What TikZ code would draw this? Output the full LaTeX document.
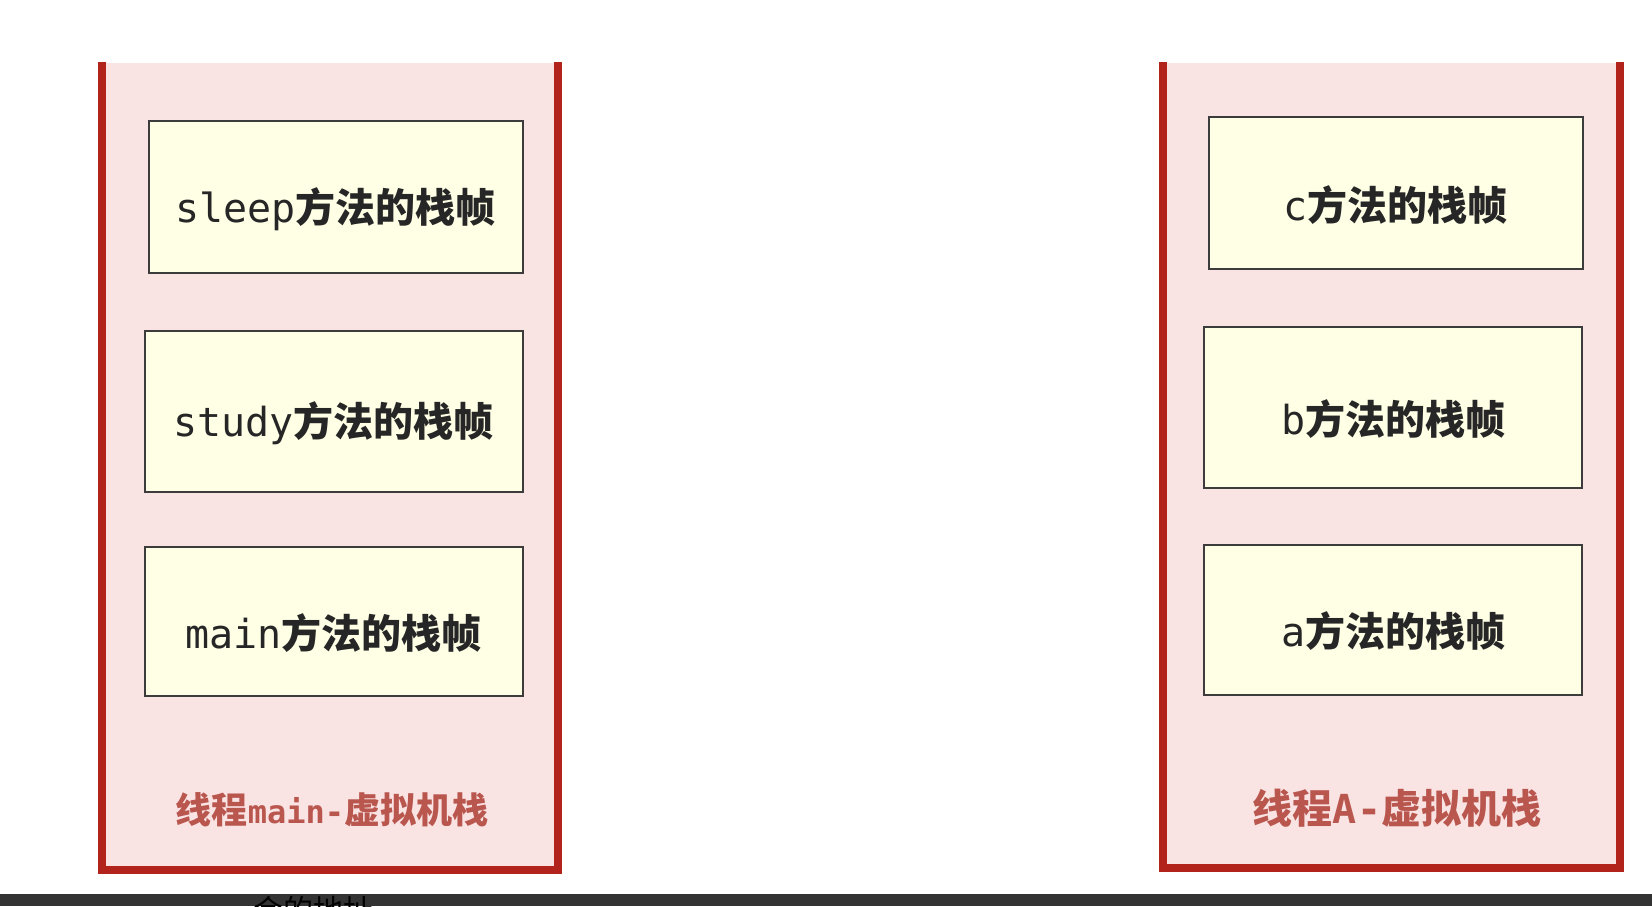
\documentclass[tikz,border=0pt]{standalone}
\usepackage{fontspec}
\setmainfont{DejaVu Sans Mono}
\newfontfamily\cjk{Noto Sans CJK SC}
\definecolor{stackred}{HTML}{B2231B}
\definecolor{stackfill}{HTML}{FAE3E3}
\definecolor{framefill}{HTML}{FFFFE6}
\definecolor{frameline}{HTML}{3C3C3C}
\definecolor{labelred}{HTML}{B9574F}
\definecolor{barfill}{HTML}{333333}
\tikzset{
  stackwall/.style={draw=stackred, line width=8pt},
  framebox/.style={draw=frameline, fill=framefill, line width=2pt, inner sep=0pt},
  frametext/.style={font=\fontsize{40}{40}\selectfont, text=black!85},
  stacklabel/.style={font=\bfseries, text=labelred},
}
\newcommand{\fr}[1]{{\cjk\bfseries #1}}
\begin{document}
\begin{tikzpicture}[x=1pt,y=-1pt]
\useasboundingbox (0,0) rectangle (1652,906);
\fill[white] (0,0) rectangle (1652,906);
% left stack
\fill[stackfill] (102,63) rectangle (558,870);
\draw[stackwall] (102,62) -- (102,870) -- (558,870) -- (558,62);
% right stack
\fill[stackfill] (1163,63) rectangle (1620,868);
\draw[stackwall] (1163,62) -- (1163,868) -- (1620,868) -- (1620,62);
% frames left
\node[framebox, minimum width=374pt, minimum height=152pt] (sleep) at (335.6,197) {};
\node[frametext] (sleept) at ([yshift=-12pt]sleep.center) {sleep\fr{方法的栈帧}};
\node[framebox, minimum width=378pt, minimum height=161pt] (study) at (333.5,411.5) {};
\node[frametext] (studyt) at ([yshift=-12pt]study.center) {study\fr{方法的栈帧}};
\node[framebox, minimum width=378pt, minimum height=149pt] (mainf) at (333.5,621.5) {};
\node[frametext] (maint) at ([yshift=-12pt]mainf.center) {main\fr{方法的栈帧}};
% frames right
\node[framebox, minimum width=374pt, minimum height=152pt] (cf) at (1395.5,193) {};
\node[frametext] (ct) at ([yshift=-12pt]cf.center) {c\fr{方法的栈帧}};
\node[framebox, minimum width=378pt, minimum height=161pt] (bf) at (1393.4,407) {};
\node[frametext] (bt) at ([yshift=-12pt]bf.center) {b\fr{方法的栈帧}};
\node[framebox, minimum width=378pt, minimum height=150pt] (af) at (1393.4,619.5) {};
\node[frametext] (at) at ([yshift=-12pt]af.center) {a\fr{方法的栈帧}};
% stack labels
\node[stacklabel] (lmain) at (332,810) {\fontsize{36}{36}\selectfont\fr{线程}{\fontsize{32}{32}\selectfont main-}\fr{虚拟机栈}};
\node[stacklabel] (lA) at (1397,808) {\fontsize{40}{40}\selectfont\fr{线程}A-\fr{虚拟机栈}};
% bottom bar
\fill[barfill] (0,894) rectangle (1652,906);
\begin{scope}
\clip (0,894) rectangle (1652,906);
\node[anchor=north west, inner sep=0pt, font=\cjk\fontsize{30}{30}\selectfont, text=black] (bartext) at (253,896) {会的地址};
\end{scope}
\end{tikzpicture}
\end{document}
